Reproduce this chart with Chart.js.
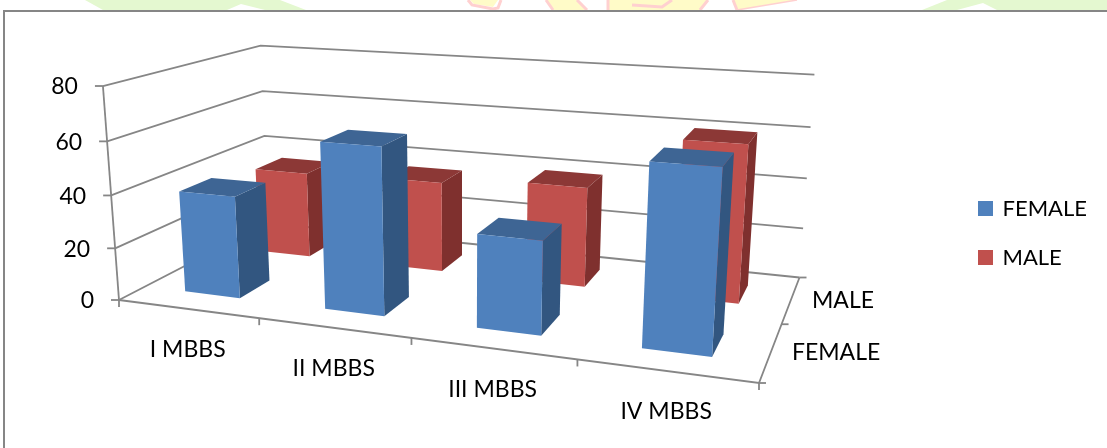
<!DOCTYPE html>
<html>
<head>
<meta charset="utf-8">
<title>Students by year and gender</title>
<script src="https://cdn.jsdelivr.net/npm/chart.js@4/dist/chart.umd.min.js"></script>
<style>
  html, body { margin: 0; padding: 0; background: #ffffff; }
  canvas { display: block; }
</style>
</head>
<body>
<canvas id="chart" width="1107" height="448"></canvas>
<script>
const years = ["I MBBS", "II MBBS", "III MBBS", "IV MBBS"];
const seriesNames = ["FEMALE", "MALE"];
const femaleValues = [39, 62, 34, 64];
const maleValues = [35, 36, 39, 60];
const yTicks = [0, 20, 40, 60, 80];

const LABEL_FONT = "23px Lato";
const GRID = "#868686";

// faces of each series: front, side, top
const FACES = {
  FEMALE: ["#4f81bd", "#325680", "#3e6594"],
  MALE: ["#c0504d", "#7f302e", "#8c3836"],
};

// floor of the box on screen, and where the verticals converge
const FLOOR = { fl: [119, 300], fr: [759, 383], br: [799.5, 277.5], bl: [268, 223] };
const VANISH = [462, 4868];
const RISE = -0.04475;

function floorMatrix() {
  const [x0, y0] = FLOOR.fl, [x1, y1] = FLOOR.fr, [x2, y2] = FLOOR.br, [x3, y3] = FLOOR.bl;
  const dx1 = x1 - x2, dy1 = y1 - y2, dx2 = x3 - x2, dy2 = y3 - y2;
  const sx = x0 - x1 + x2 - x3, sy = y0 - y1 + y2 - y3;
  const den = dx1 * dy2 - dx2 * dy1;
  const g = (sx * dy2 - dx2 * sy) / den;
  const h = (dx1 * sy - sx * dy1) / den;
  return {
    a: x1 - x0 + g * x1, b: x3 - x0 + h * x3, c: x0,
    d: y1 - y0 + g * y1, e: y3 - y0 + h * y3, f: y0,
    g: g, h: h,
  };
}
const M = floorMatrix();

// u along the years, d into the page, v up the value axis (all 0..1)
function project(u, d, v) {
  const w = M.g * u + M.h * d + 1;
  const k = RISE * v;
  const q = w + k;
  return [
    (M.a * u + M.b * d + M.c + k * VANISH[0]) / q,
    (M.d * u + M.e * d + M.f + k * VANISH[1]) / q,
  ];
}

function polygon(ctx, pts, fill) {
  ctx.beginPath();
  pts.forEach((p, i) => (i ? ctx.lineTo(p[0], p[1]) : ctx.moveTo(p[0], p[1])));
  ctx.closePath();
  ctx.fillStyle = fill;
  ctx.fill();
}

function line(ctx, pts) {
  ctx.beginPath();
  pts.forEach((p, i) => (i ? ctx.lineTo(p[0], p[1]) : ctx.moveTo(p[0], p[1])));
  ctx.stroke();
}

function heightOf(y, value) {
  return (y.bottom - y.getPixelForValue(value)) / y.height;
}

function drawBox(ctx, u0, u1, d0, d1, v, colors) {
  const p = project;
  polygon(ctx, [p(u1, d0, 0), p(u1, d1, 0), p(u1, d1, v), p(u1, d0, v)], colors[1]);
  polygon(ctx, [p(u0, d0, v), p(u1, d0, v), p(u1, d1, v), p(u0, d1, v)], colors[2]);
  polygon(ctx, [p(u0, d0, 0), p(u1, d0, 0), p(u1, d0, v), p(u0, d0, v)], colors[0]);
}

// crest printed on the page, only its lower edge shows above the frame
function drawCrest(ctx) {
  const green = "#e4f8d0", yellow = "#fffbc8", pink = "#ffd0d0";
  polygon(ctx, [[85, 0], [103, 10], [227, 10], [241, 4], [265, 10], [306, 10], [280, 0]], green);
  polygon(ctx, [[922, 10], [947, 0], [1107, 0], [1107, 10], [997, 10], [983, 3], [957, 10]], green);
  polygon(ctx, [[470, 0], [474, 4], [493, 7], [498, 0]], yellow);
  polygon(ctx, [[547, 0], [553, 10], [586, 10], [577, 0]], yellow);
  polygon(ctx, [[608, 0], [608, 10], [700, 10], [707, 0]], yellow);
  polygon(ctx, [[733, 0], [737, 10], [796, 0]], yellow);
  ctx.strokeStyle = pink;
  ctx.lineWidth = 3;
  line(ctx, [[468, 0], [472, 5], [493, 9], [498, 8], [501, 0]]);
  line(ctx, [[546, 0], [553, 10]]);
  line(ctx, [[577, 0], [587, 10]]);
  line(ctx, [[608, 0], [608, 10]]);
  line(ctx, [[632, 5], [662, 7], [672, 0]]);
  line(ctx, [[708, 0], [700, 10]]);
  line(ctx, [[733, 0], [737, 10]]);
  ctx.lineWidth = 1.5;
  line(ctx, [[737, 10], [797, 0]]);
}

const box3d = {
  id: "box3d",
  beforeDraw(chart) {
    const ctx = chart.ctx;
    const legend = chart.legend;
    const pad = legend.options.labels.padding;
    legend.left = 979.5 - pad;
    legend.top = 197.5 - pad;
    legend.right = 1107;
    legend.bottom = 300;

    ctx.save();
    ctx.fillStyle = "#ffffff";
    ctx.fillRect(0, 0, 1107, 448);
    drawCrest(ctx);
    ctx.fillStyle = "#ffffff";
    ctx.fillRect(0, 10, 1107, 438);
    ctx.strokeStyle = "#868686";
    ctx.lineWidth = 2;
    line(ctx, [[4, 448], [4, 11], [1107, 11]]);
    ctx.restore();
  },
  beforeDatasetsDraw(chart) {
    const ctx = chart.ctx;
    const x = chart.scales.x;
    const y = chart.scales.y;
    const n = years.length;
    const rows = chart.data.datasets.length;

    ctx.save();
    ctx.strokeStyle = GRID;
    ctx.lineWidth = 1.8;

    // walls
    y.ticks.forEach((t) => {
      const v = heightOf(y, t.value);
      line(ctx, [project(0, 0, v), project(0, 1, v), project(1, 1, v)]);
      const front = project(0, 0, v);
      line(ctx, [front, [front[0] - 8, front[1]]]);
    });
    line(ctx, [project(0, 0, 0), project(0, 0, 1)]);

    // floor edges and ticks
    line(ctx, [project(0, 0, 0), project(1, 0, 0), project(1, 1, 0)]);
    for (let i = 0; i <= n; i++) {
      const p = project(i / n, 0, 0);
      line(ctx, [p, [p[0], p[1] + 7]]);
    }
    for (let r = 0; r <= rows; r++) {
      const p = project(1, r / rows, 0);
      line(ctx, [p, [p[0] + 7, p[1]]]);
    }

    // bars, back row first
    for (let r = rows - 1; r >= 0; r--) {
      const ds = chart.data.datasets[r];
      const depth = 1 / rows;
      for (let i = 0; i < n; i++) {
        const cu = (x.getPixelForValue(i) - x.left) / x.width;
        const halfU = (0.4 / n) / 2;
        const cd = (r + 0.5) * depth;
        const halfD = (0.4 * depth) / 2;
        drawBox(ctx, cu - halfU, cu + halfU, cd - halfD, cd + halfD, heightOf(y, ds.data[i]), FACES[ds.label]);
      }
    }

    // axis text
    ctx.fillStyle = "#000000";
    ctx.font = LABEL_FONT;
    ctx.textBaseline = "middle";
    ctx.textAlign = "right";
    y.ticks.forEach((t) => {
      const p = project(0, 0, heightOf(y, t.value));
      ctx.fillText(String(t.value), p[0] - 25, p[1] + 1);
    });
    ctx.textAlign = "center";
    years.forEach((name, i) => {
      const cu = (x.getPixelForValue(i) - x.left) / x.width;
      const p = project(cu, 0, 0);
      ctx.fillText(name, p[0], p[1] + 41);
    });
    ctx.textAlign = "left";
    seriesNames.forEach((name, r) => {
      const p = project(1, (r + 0.5) / rows, 0);
      ctx.fillText(name, p[0] + 21, p[1] + 1);
    });
    ctx.restore();
    return false;
  },
};

new Chart(document.getElementById("chart"), {
  type: "bar",
  data: {
    labels: years,
    datasets: [
      { label: seriesNames[0], data: femaleValues, backgroundColor: "#4f81bd", borderColor: "#4f81bd", borderWidth: 3 },
      { label: seriesNames[1], data: maleValues, backgroundColor: "#c0504d", borderColor: "#c0504d", borderWidth: 3 },
    ],
  },
  options: {
    responsive: false,
    animation: false,
    plugins: {
      tooltip: { enabled: false },
      legend: {
        position: "right",
        align: "start",
        labels: { boxWidth: 12, boxHeight: 12, padding: 27, color: "#000000", font: { family: "Lato", size: 22 } },
      },
    },
    scales: {
      x: { display: false },
      y: { display: false, min: yTicks[0], max: yTicks[yTicks.length - 1], ticks: { stepSize: 20 } },
    },
  },
  plugins: [box3d],
});
</script>
</body>
</html>
